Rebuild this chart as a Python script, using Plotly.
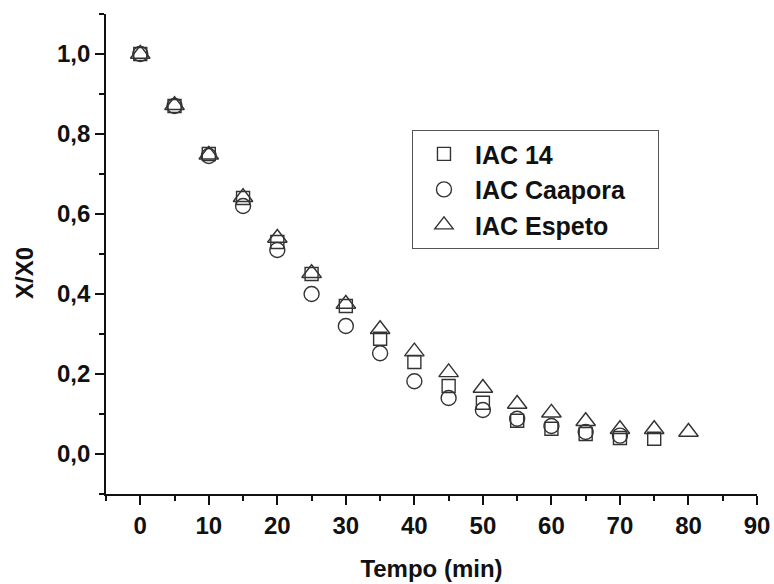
import plotly.graph_objects as go

tempo = [0, 5, 10, 15, 20, 25, 30, 35, 40, 45, 50, 55, 60, 65, 70, 75, 80]
iac14 = [1.0, 0.87, 0.75, 0.64, 0.53, 0.45, 0.37, 0.288, 0.23, 0.17, 0.128, 0.083, 0.063, 0.05, 0.04, 0.038]
caapora = [1.0, 0.87, 0.745, 0.62, 0.51, 0.40, 0.32, 0.252, 0.182, 0.14, 0.11, 0.088, 0.07, 0.055, 0.046]
espeto = [1.0, 0.872, 0.748, 0.642, 0.54, 0.452, 0.375, 0.312, 0.256, 0.204, 0.165, 0.125, 0.103, 0.082, 0.062, 0.062, 0.055]

series = [
    ("IAC 14", iac14, "square-open", 13),
    ("IAC Caapora", caapora, "circle-open", 15),
    ("IAC Espeto", espeto, "triangle-up-open", 17),
]

FONT = "Liberation Sans, Arial, sans-serif"
LINE = "#333333"
INK = "#111111"
PAD = "\u00a0" * 4

fig = go.Figure()
for name, vals, sym, size in series:
    fig.add_trace(go.Scatter(
        x=tempo[:len(vals)], y=vals, mode="markers", name="<b>" + name + "</b>" + PAD,
        marker=dict(symbol=sym, size=size, color=LINE, line=dict(width=1.4, color=LINE)),
    ))

axis_common = dict(
    showline=True, linecolor=INK, linewidth=1.8,
    ticks="outside", ticklen=9, tickwidth=1.6, tickcolor=INK,
    showgrid=False, zeroline=False, mirror=False, automargin=False,
    tickfont=dict(family=FONT, size=24, color=INK),
    tickprefix="<b>", ticksuffix="</b>",
)
minor_common = dict(ticks="outside", ticklen=5, tickwidth=1.6, tickcolor=INK)

fig.update_xaxes(
    range=[-5, 90], tick0=0, dtick=10,
    minor=dict(dtick=5, tick0=0, **minor_common),
    title=dict(text="<b>Tempo (min)</b>", font=dict(family=FONT, size=24, color=INK), standoff=22),
    **axis_common,
)
fig.update_yaxes(
    range=[-0.1, 1.1], tick0=0, dtick=0.2, tickformat=".1f",
    minor=dict(dtick=0.1, tick0=0, **minor_common),
    **axis_common,
)

fig.add_annotation(
    text="<b>X/X0</b>", textangle=-90, xref="paper", yref="paper",
    x=0, y=0.4604, xanchor="center", yanchor="middle", xshift=-82,
    showarrow=False, font=dict(family=FONT, size=24, color=INK),
)

fig.update_layout(
    width=774, height=584,
    margin=dict(l=106, r=17, t=14, b=90),
    plot_bgcolor="white", paper_bgcolor="white",
    separators=",.",
    legend=dict(
        x=0.47, y=0.758, xanchor="left", yanchor="top",
        bordercolor="#555555", borderwidth=1, bgcolor="white",
        font=dict(family=FONT, size=25, color=INK),
        itemwidth=52, tracegroupgap=0,
    ),
    showlegend=True,
)

fig.write_html("out.html")
